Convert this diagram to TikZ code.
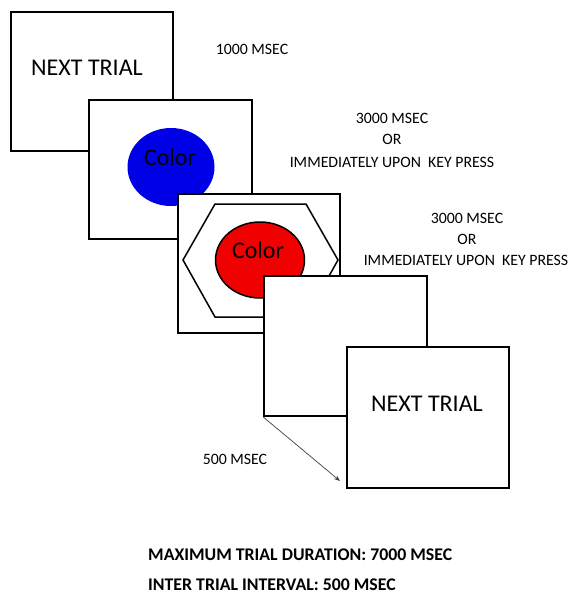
\documentclass[tikz,border=0pt]{standalone}
\usepackage{fontspec}
\setmainfont{Carlito}
\usetikzlibrary{shapes.geometric,arrows.meta}
\begin{document}
\begin{tikzpicture}[x=1pt,y=-1pt,
  screen/.style={draw=black,line width=1.8pt,fill=white,rectangle,inner sep=0pt,anchor=north west},
  lbl/.style={font=\fontsize{15.8}{18}\selectfont,align=center,inner sep=0pt},
  big/.style={font=\fontsize{24}{26}\selectfont,inner sep=0pt},
  colortext/.style={font=\fontsize{24}{26}\selectfont,inner sep=0pt},
  summary/.style={font=\fontsize{17.8}{20}\selectfont\bfseries,inner sep=0pt,anchor=west}]
\useasboundingbox (0,0) rectangle (569,596);
% screen 1
\node[screen,minimum width=162pt,minimum height=139pt] (b1) at (10,11) {};
\node[big] (t1) at (87,68) {NEXT TRIAL};
% screen 2
\node[screen,minimum width=163pt,minimum height=139pt] (b2) at (88,99) {};
\node[ellipse,fill={rgb,255:red,0;green,0;blue,230},minimum width=87pt,minimum height=78pt,inner sep=0pt] (e1) at (171,167) {};
\node[colortext] (c1) at (170,157) {Color};
% screen 3
\node[screen,minimum width=162pt,minimum height=139pt] (b3) at (177,193) {};
\draw[line width=1.5pt,line join=miter] (215,204) -- (306,204) -- (338,260) -- (306,317) -- (215,317) -- (183,260) -- cycle;
\node[ellipse,draw=black,line width=1.5pt,fill={rgb,255:red,240;green,0;blue,0},minimum width=89pt,minimum height=76pt,inner sep=0pt] (e2) at (260,260) {};
\node[colortext] (c2) at (258,250) {Color};
% screen 4
\node[screen,minimum width=163pt,minimum height=140pt] (b4) at (263,275) {};
% screen 5
\node[screen,minimum width=162pt,minimum height=141pt] (b5) at (346,346) {};
\node[big] (t5) at (427,404) {NEXT TRIAL};
% arrow
\coordinate (ae) at (340,481);
\draw[line width=0.7pt,draw=black!75,-{Stealth[length=6pt,width=4.5pt]}] (b4.south west) -- (ae);
% labels
\node[lbl] (l1) at (252,49) {1000 MSEC};
\node[lbl] (l2a) at (392,118) {3000 MSEC};
\node[lbl] (l2b) at (392,139) {OR};
\node[lbl] (l2c) at (392,162) {IMMEDIATELY UPON\ \ KEY PRESS};
\node[lbl] (l3a) at (467,218) {3000 MSEC};
\node[lbl] (l3b) at (467,239) {OR};
\node[lbl] (l3c) at (466,260) {IMMEDIATELY UPON\ \ KEY PRESS};
\node[lbl] (l4) at (235,459) {500 MSEC};
\node[summary] (s1) at (148,555) {MAXIMUM TRIAL DURATION: 7000 MSEC};
\node[summary] (s2) at (148,585) {INTER TRIAL INTERVAL: 500 MSEC};
\end{tikzpicture}
\end{document}
